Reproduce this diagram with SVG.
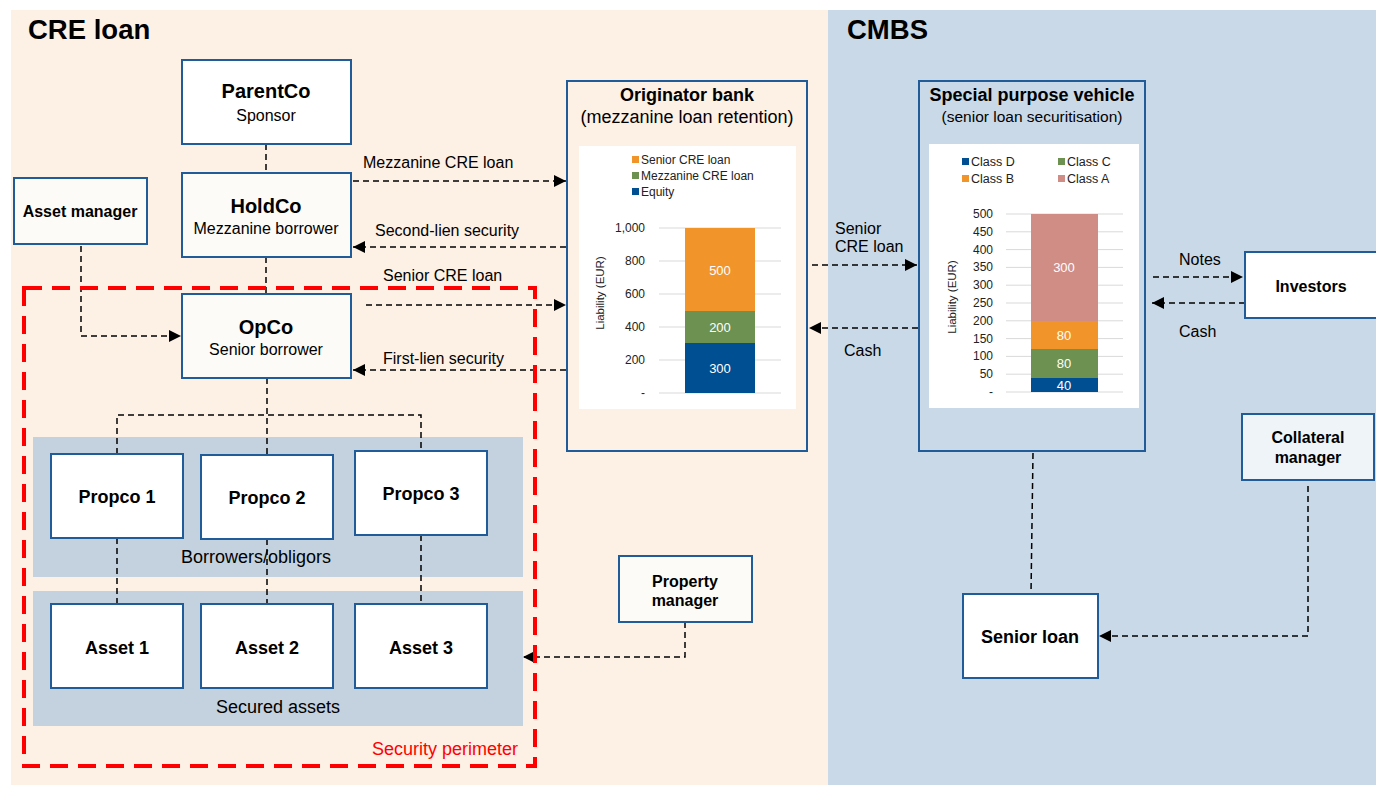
<svg xmlns="http://www.w3.org/2000/svg" width="1376" height="785" viewBox="0 0 1376 785">
<defs>
<style>
text{font-family:"Liberation Sans",Arial,sans-serif;fill:#000}
.title{font-size:27.5px;font-weight:bold}
.nb{font-size:20px;font-weight:bold;text-anchor:middle}
.ns{font-size:16px;text-anchor:middle}
.sb{font-size:16px;font-weight:bold;text-anchor:middle}
.pb{font-size:18px;font-weight:bold;text-anchor:middle}
.lbl{font-size:16px}
.band{font-size:18px;text-anchor:middle}
.box{stroke:#1f5c99;stroke-width:2;fill:#fff}
.boxo{stroke:#1f5c99;stroke-width:2;fill:#fdfbf8}
.conn{fill:none;stroke:#000;stroke-width:1.5;stroke-dasharray:6 4}
.grid{stroke:#d9d9d9;stroke-width:1}
.ax{font-size:12px;text-anchor:end;fill:#222}
.lg{font-size:12px;fill:#222}
.bv{font-size:13px;fill:#fff;text-anchor:middle}
</style>
<marker id="ah" markerUnits="userSpaceOnUse" markerWidth="12" markerHeight="12" viewBox="0 0 12 12" refX="12" refY="6" orient="auto">
<path d="M0,0 L12,6 L0,12 Z" fill="#000"/>
</marker>
</defs>

<g id="backgrounds">
<rect x="11" y="10" width="817" height="775" fill="#fdf0e5"/>
<rect x="828" y="10" width="548" height="775" fill="#c9d9e7"/>
<text class="title" x="28" y="39">CRE loan</text>
<text class="title" x="847" y="39">CMBS</text>
<rect x="33" y="437" width="490" height="140" fill="#c4d2df"/>
<rect x="33" y="591" width="490" height="135" fill="#c4d2df"/>
<text class="band" x="256" y="563">Borrowers/obligors</text>
<text class="band" x="278" y="713">Secured assets</text>
</g>

<g id="connectors">
<path class="conn" d="M266,144 V172"/>
<path class="conn" d="M266,257 V294"/>
<path class="conn" d="M267,378 V455"/>
<path class="conn" d="M117,454 V415 H421 V451"/>
<path class="conn" d="M117,538 V604"/>
<path class="conn" d="M267,539 V604"/>
<path class="conn" d="M421,535 V604"/>
<path class="conn" d="M81,246 V336 H181" marker-end="url(#ah)"/>
<path class="conn" d="M353,181 H566" marker-end="url(#ah)"/>
<path class="conn" d="M566,247 H353" marker-end="url(#ah)"/>
<path class="conn" d="M366,305 H566" marker-end="url(#ah)"/>
<path class="conn" d="M566,370 H353" marker-end="url(#ah)"/>
<path class="conn" d="M812,265 H917" marker-end="url(#ah)"/>
<path class="conn" d="M918,328 H809" marker-end="url(#ah)"/>
<path class="conn" d="M1153,277 H1243" marker-end="url(#ah)"/>
<path class="conn" d="M1245,303 H1152" marker-end="url(#ah)"/>
<path class="conn" d="M1033,453 L1031,594"/>
<path class="conn" d="M1308,486 V636 H1099" marker-end="url(#ah)"/>
<path class="conn" d="M685,622 V657 H523" marker-end="url(#ah)"/>
<text class="lbl" x="363" y="168">Mezzanine CRE loan</text>
<text class="lbl" x="375" y="236">Second-lien security</text>
<text class="lbl" x="383" y="281">Senior CRE loan</text>
<text class="lbl" x="383" y="364">First-lien security</text>
<text class="lbl" x="835" y="234">Senior</text>
<text class="lbl" x="835" y="252">CRE loan</text>
<text class="lbl" x="844" y="356">Cash</text>
<text class="lbl" x="1179" y="265">Notes</text>
<text class="lbl" x="1179" y="337">Cash</text>
</g>

<g id="security-perimeter">
<rect x="24" y="288" width="511" height="478" fill="none" stroke="#ff0000" stroke-width="4" stroke-dasharray="18 10"/>
<text x="518" y="755" style="font-size:18px;fill:#ff0000;text-anchor:end">Security perimeter</text>
</g>

<g id="parentco">
<rect class="box" x="182" y="60" width="169" height="84"/>
<text class="nb" x="266" y="98">ParentCo</text>
<text class="ns" x="266" y="121">Sponsor</text>
</g>
<g id="holdco">
<rect class="boxo" x="182" y="173" width="169" height="84"/>
<text class="nb" x="266" y="213">HoldCo</text>
<text class="ns" x="266" y="234">Mezzanine borrower</text>
</g>
<g id="opco">
<rect class="boxo" x="182" y="294" width="169" height="84"/>
<text class="nb" x="266" y="334">OpCo</text>
<text class="ns" x="266" y="355">Senior borrower</text>
</g>
<g id="asset-manager">
<rect class="boxo" x="14" y="178" width="133" height="66"/>
<text class="sb" x="80" y="217">Asset manager</text>
</g>
<g id="propco1"><rect class="box" x="51" y="454" width="132" height="84"/><text class="pb" x="117" y="503">Propco 1</text></g>
<g id="propco2"><rect class="box" x="201" y="455" width="132" height="84"/><text class="pb" x="267" y="504">Propco 2</text></g>
<g id="propco3"><rect class="box" x="355" y="451" width="132" height="84"/><text class="pb" x="421" y="500">Propco 3</text></g>
<g id="asset1"><rect class="box" x="51" y="604" width="132" height="84"/><text class="pb" x="117" y="654">Asset 1</text></g>
<g id="asset2"><rect class="box" x="201" y="604" width="132" height="84"/><text class="pb" x="267" y="654">Asset 2</text></g>
<g id="asset3"><rect class="box" x="355" y="604" width="132" height="84"/><text class="pb" x="421" y="654">Asset 3</text></g>
<g id="property-manager">
<rect class="boxo" x="619" y="556" width="133" height="66"/>
<text class="sb" x="685" y="587">Property</text>
<text class="sb" x="685" y="606">manager</text>
</g>

<g id="originator-bank">
<rect x="567" y="81" width="240" height="370" fill="#fdf0e5" stroke="#1f5c99" stroke-width="2"/>
<text x="687" y="101" style="font-size:18px;font-weight:bold;text-anchor:middle">Originator bank</text>
<text x="687" y="123" style="font-size:18px;text-anchor:middle">(mezzanine loan retention)</text>
<rect x="579" y="146" width="217" height="263" fill="#fff"/>
<rect x="632" y="156" width="7" height="7" fill="#f1952b"/>
<text class="lg" x="641" y="164">Senior CRE loan</text>
<rect x="632" y="172" width="7" height="7" fill="#6c9150"/>
<text class="lg" x="641" y="180">Mezzanine CRE loan</text>
<rect x="632" y="188" width="7" height="7" fill="#004f93"/>
<text class="lg" x="641" y="196">Equity</text>
<g>
<line class="grid" x1="659" y1="228" x2="781" y2="228"/>
<line class="grid" x1="659" y1="261" x2="781" y2="261"/>
<line class="grid" x1="659" y1="294" x2="781" y2="294"/>
<line class="grid" x1="659" y1="327" x2="781" y2="327"/>
<line class="grid" x1="659" y1="360" x2="781" y2="360"/>
<line class="grid" x1="659" y1="393" x2="781" y2="393"/>
</g>
<text class="ax" x="645" y="232">1,000</text>
<text class="ax" x="645" y="265">800</text>
<text class="ax" x="645" y="298">600</text>
<text class="ax" x="645" y="331">400</text>
<text class="ax" x="645" y="364">200</text>
<text class="ax" x="645" y="397">-</text>
<text transform="translate(604,293) rotate(-90)" style="font-size:11.5px;text-anchor:middle;fill:#222">Liability (EUR)</text>
<rect x="685" y="228" width="70" height="83" fill="#f1952b"/>
<rect x="685" y="311" width="70" height="32" fill="#6c9150"/>
<rect x="685" y="343" width="70" height="50" fill="#004f93"/>
<text class="bv" x="720" y="275">500</text>
<text class="bv" x="720" y="332">200</text>
<text class="bv" x="720" y="373">300</text>
</g>

<g id="spv">
<rect x="919" y="81" width="226" height="370" fill="#c9d9e7" stroke="#1f5c99" stroke-width="2"/>
<text x="1032" y="101" style="font-size:18px;font-weight:bold;text-anchor:middle">Special purpose vehicle</text>
<text x="1032" y="122" style="font-size:15.5px;text-anchor:middle">(senior loan securitisation)</text>
<rect x="929" y="144" width="210" height="264" fill="#fff"/>
<rect x="962" y="158" width="7" height="7" fill="#004f93"/>
<text class="lg" x="971" y="166" style="font-size:12.5px">Class D</text>
<rect x="1058" y="158" width="7" height="7" fill="#6c9150"/>
<text class="lg" x="1067" y="166" style="font-size:12.5px">Class C</text>
<rect x="962" y="175" width="7" height="7" fill="#f1952b"/>
<text class="lg" x="971" y="183" style="font-size:12.5px">Class B</text>
<rect x="1058" y="175" width="7" height="7" fill="#cf8d86"/>
<text class="lg" x="1067" y="183" style="font-size:12.5px">Class A</text>
<g>
<line class="grid" x1="1006" y1="214" x2="1123" y2="214"/>
<line class="grid" x1="1006" y1="231.8" x2="1123" y2="231.8"/>
<line class="grid" x1="1006" y1="249.6" x2="1123" y2="249.6"/>
<line class="grid" x1="1006" y1="267.4" x2="1123" y2="267.4"/>
<line class="grid" x1="1006" y1="285.2" x2="1123" y2="285.2"/>
<line class="grid" x1="1006" y1="303" x2="1123" y2="303"/>
<line class="grid" x1="1006" y1="320.8" x2="1123" y2="320.8"/>
<line class="grid" x1="1006" y1="338.6" x2="1123" y2="338.6"/>
<line class="grid" x1="1006" y1="356.4" x2="1123" y2="356.4"/>
<line class="grid" x1="1006" y1="374.2" x2="1123" y2="374.2"/>
<line class="grid" x1="1006" y1="392" x2="1123" y2="392"/>
</g>
<g style="font-size:12.5px">
<text class="ax" x="993" y="218">500</text>
<text class="ax" x="993" y="236">450</text>
<text class="ax" x="993" y="254">400</text>
<text class="ax" x="993" y="271">350</text>
<text class="ax" x="993" y="289">300</text>
<text class="ax" x="993" y="307">250</text>
<text class="ax" x="993" y="325">200</text>
<text class="ax" x="993" y="343">150</text>
<text class="ax" x="993" y="360">100</text>
<text class="ax" x="993" y="378">50</text>
<text class="ax" x="993" y="396">-</text>
</g>
<text transform="translate(956,297) rotate(-90)" style="font-size:11.5px;text-anchor:middle;fill:#222">Liability (EUR)</text>
<rect x="1031" y="214" width="67" height="107" fill="#cf8d86"/>
<rect x="1031" y="321" width="67" height="28" fill="#f1952b"/>
<rect x="1031" y="349" width="67" height="29" fill="#6c9150"/>
<rect x="1031" y="378" width="67" height="14" fill="#004f93"/>
<text class="bv" x="1064" y="272">300</text>
<text class="bv" x="1064" y="340">80</text>
<text class="bv" x="1064" y="368">80</text>
<text class="bv" x="1064" y="390">40</text>
</g>

<g id="investors">
<rect class="box" x="1245" y="252" width="140" height="66"/>
<text class="sb" x="1311" y="292">Investors</text>
</g>
<g id="collateral-manager">
<rect x="1242" y="414" width="132" height="66" fill="#eff4f9" stroke="#1f5c99" stroke-width="2"/>
<text class="sb" x="1308" y="443">Collateral</text>
<text class="sb" x="1308" y="463">manager</text>
</g>
<g id="senior-loan">
<rect class="box" x="963" y="594" width="135" height="84"/>
<text class="pb" x="1030" y="643">Senior loan</text>
</g>
</svg>
